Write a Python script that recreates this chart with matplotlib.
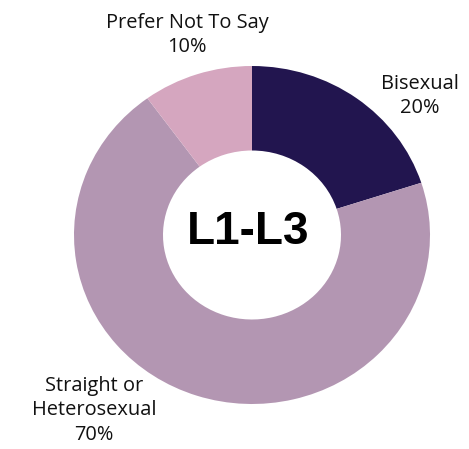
import matplotlib
matplotlib.use("Agg")
import matplotlib.pyplot as plt

# Share of respondents by sexual orientation, levels L1-L3
categories = ["Bisexual", "Straight or\nHeterosexual", "Prefer Not To Say"]
values = [20, 70, 10]
colors = ["#22154F", "#B396B2", "#D5A6BF"]
center_label = "L1-L3"

W, H = 469, 449
fig = plt.figure(figsize=(W / 100, H / 100), dpi=100)

# pie occupies a slightly wide box, so the ring is a little elliptical
left, right, top, bottom = 74, 430, 66, 404
ax = fig.add_axes([left / W, 1 - bottom / H, (right - left) / W, (bottom - top) / H])
wedges, _ = ax.pie(values, colors=colors, startangle=90, counterclock=False,
                   radius=1.0, wedgeprops=dict(width=0.5, linewidth=0))
ax.set_aspect("auto")
ax.set_xlim(-1, 1)
ax.set_ylim(-1, 1)

font = "Open Sans"
label_pos = {
    "Bisexual": (420, 96),
    "Straight or\nHeterosexual": (94, 410),
    "Prefer Not To Say": (187, 35),
}
for cat, val in zip(categories, values):
    x, y = label_pos[cat]
    fig.text(x / W, 1 - y / H, f"{cat}\n{val}%", ha="center", va="center",
             fontsize=14.4, family=font, color="#111111", linespacing=1.3)

fig.text(248 / W, 1 - 232 / H, center_label, ha="center", va="center",
         fontsize=33, fontweight="bold", family="Liberation Sans", color="black")

fig.savefig("out.png", dpi=100)
